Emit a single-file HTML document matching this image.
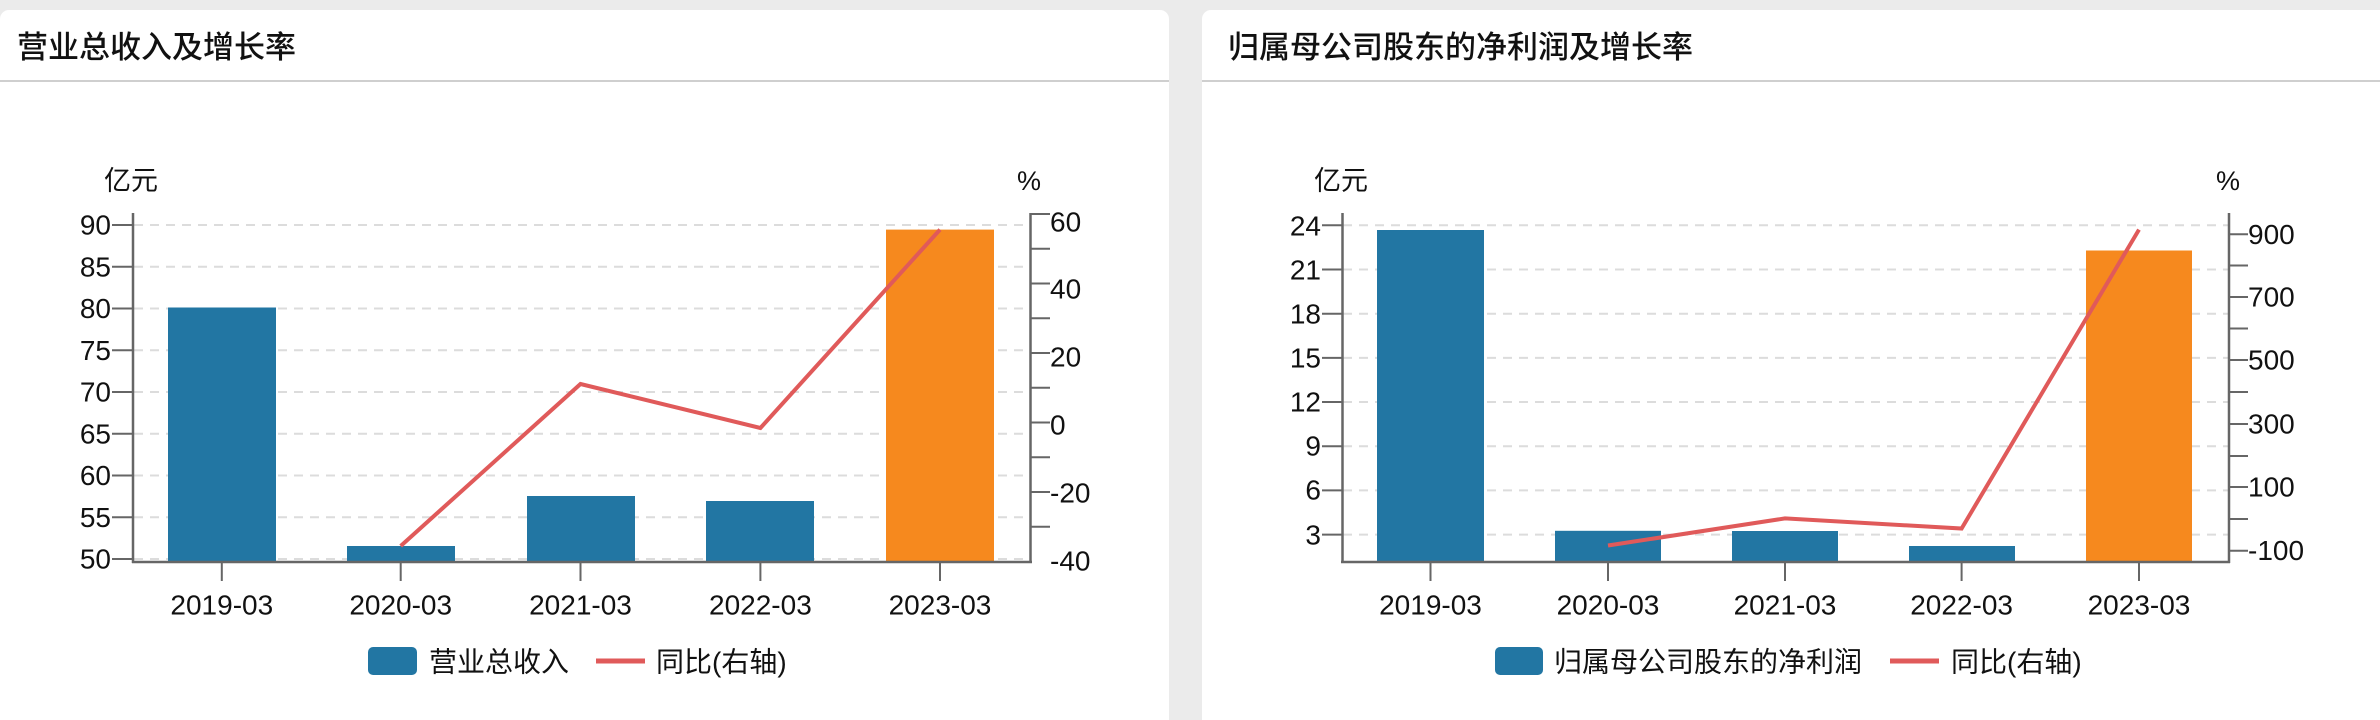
<!DOCTYPE html>
<html><head><meta charset="utf-8"><style>
html,body{margin:0;padding:0;background:#ebebeb;}
svg{display:block;}
text{font-family:"Liberation Sans","Noto Sans CJK SC",sans-serif;fill:#111;}
.t{font-weight:500;}
</style></head><body>
<svg width="2380" height="720" viewBox="0 0 2380 720" xmlns="http://www.w3.org/2000/svg">
<rect x="0" y="0" width="2380" height="720" fill="#ebebeb"/>
<!-- Left card -->
<rect x="0" y="10" width="1169" height="720" rx="9" fill="#fff"/>
<text class="t" x="17" y="58" font-size="31">营业总收入及增长率</text>
<rect x="0" y="80" width="1169" height="2" fill="#cfcfcf"/>
<text x="104" y="190" font-size="27">亿元</text>
<text x="1017" y="190" font-size="27">%</text>
<g stroke="#dcdcdc" stroke-width="2" stroke-dasharray="9,7">
<line x1="134" x2="1030" y1="225" y2="225"/><line x1="134" x2="1030" y1="266.8" y2="266.8"/>
<line x1="134" x2="1030" y1="308.5" y2="308.5"/><line x1="134" x2="1030" y1="350.3" y2="350.3"/>
<line x1="134" x2="1030" y1="392" y2="392"/><line x1="134" x2="1030" y1="433.8" y2="433.8"/>
<line x1="134" x2="1030" y1="475.5" y2="475.5"/><line x1="134" x2="1030" y1="517.3" y2="517.3"/>
<line x1="134" x2="1030" y1="559" y2="559"/>
</g>
<g fill="#2276a3">
<rect x="168" y="307.5" width="108" height="254.5"/>
<rect x="347" y="546" width="108" height="16"/>
<rect x="527" y="496" width="108" height="66"/>
<rect x="706" y="501" width="108" height="61"/>
</g>
<rect x="886" y="229.6" width="108" height="332.4" fill="#f6891e"/>
<polyline points="400.7,546 580.5,384 760.4,428 940,229.6" fill="none" stroke="#e05a5a" stroke-width="4"/>
<g stroke="#666" stroke-width="2.5" fill="none">
<line x1="133" y1="213" x2="133" y2="563"/>
<line x1="1030.5" y1="213" x2="1030.5" y2="563"/>
<line x1="132" y1="562" x2="1032" y2="562"/>
</g>
<g stroke="#666" stroke-width="2">
<line x1="112" x2="133" y1="225" y2="225"/><line x1="112" x2="133" y1="266.8" y2="266.8"/>
<line x1="112" x2="133" y1="308.5" y2="308.5"/><line x1="112" x2="133" y1="350.3" y2="350.3"/>
<line x1="112" x2="133" y1="392" y2="392"/><line x1="112" x2="133" y1="433.8" y2="433.8"/>
<line x1="112" x2="133" y1="475.5" y2="475.5"/><line x1="112" x2="133" y1="517.3" y2="517.3"/>
<line x1="112" x2="133" y1="559" y2="559"/>
<line x1="1031" x2="1050" y1="214" y2="214"/><line x1="1031" x2="1050" y1="248.7" y2="248.7"/>
<line x1="1031" x2="1050" y1="283.5" y2="283.5"/><line x1="1031" x2="1050" y1="318.2" y2="318.2"/>
<line x1="1031" x2="1050" y1="353" y2="353"/><line x1="1031" x2="1050" y1="387.8" y2="387.8"/>
<line x1="1031" x2="1050" y1="422.5" y2="422.5"/><line x1="1031" x2="1050" y1="457.2" y2="457.2"/>
<line x1="1031" x2="1050" y1="492" y2="492"/><line x1="1031" x2="1050" y1="526.7" y2="526.7"/>
<line x1="221.8" x2="221.8" y1="562" y2="581"/><line x1="400.7" x2="400.7" y1="562" y2="581"/>
<line x1="580.5" x2="580.5" y1="562" y2="581"/><line x1="760.4" x2="760.4" y1="562" y2="581"/>
<line x1="940" x2="940" y1="562" y2="581"/>
</g>
<g font-size="28" text-anchor="end" dominant-baseline="central">
<text x="111" y="225">90</text><text x="111" y="266.8">85</text><text x="111" y="308.5">80</text>
<text x="111" y="350.3">75</text><text x="111" y="392">70</text><text x="111" y="433.8">65</text>
<text x="111" y="475.5">60</text><text x="111" y="517.3">55</text><text x="111" y="559">50</text>
</g>
<g font-size="28" dominant-baseline="central">
<text x="1050" y="222">60</text><text x="1050" y="289">40</text><text x="1050" y="357">20</text>
<text x="1050" y="425">0</text><text x="1050" y="493">-20</text><text x="1050" y="561">-40</text>
</g>
<g font-size="28" text-anchor="middle" dominant-baseline="central">
<text x="221.8" y="605">2019-03</text><text x="400.7" y="605">2020-03</text>
<text x="580.5" y="605">2021-03</text><text x="760.4" y="605">2022-03</text>
<text x="940" y="605">2023-03</text>
</g>
<rect x="368" y="647" width="49" height="28" rx="5" fill="#2276a3"/>
<text x="429" y="662" font-size="28" dominant-baseline="central">营业总收入</text>
<line x1="596" x2="645" y1="661" y2="661" stroke="#e05a5a" stroke-width="5"/>
<text x="656" y="662" font-size="28" dominant-baseline="central">同比(右轴)</text>

<!-- Right card -->
<rect x="1202" y="10" width="1200" height="720" rx="9" fill="#fff"/>
<text class="t" x="1228" y="58" font-size="31">归属母公司股东的净利润及增长率</text>
<rect x="1202" y="80" width="1178" height="2" fill="#cfcfcf"/>
<text x="1314" y="190" font-size="27">亿元</text>
<text x="2216" y="190" font-size="27">%</text>
<g stroke="#dcdcdc" stroke-width="2" stroke-dasharray="9,7">
<line x1="1343" x2="2228" y1="225.3" y2="225.3"/><line x1="1343" x2="2228" y1="269.5" y2="269.5"/>
<line x1="1343" x2="2228" y1="313.7" y2="313.7"/><line x1="1343" x2="2228" y1="357.9" y2="357.9"/>
<line x1="1343" x2="2228" y1="402" y2="402"/><line x1="1343" x2="2228" y1="446.2" y2="446.2"/>
<line x1="1343" x2="2228" y1="490.4" y2="490.4"/><line x1="1343" x2="2228" y1="534.6" y2="534.6"/>
</g>
<g fill="#2276a3">
<rect x="1377" y="230" width="107" height="332"/>
<rect x="1555" y="530.8" width="106" height="31.2"/>
<rect x="1732" y="531" width="106" height="31"/>
<rect x="1909" y="546" width="106" height="16"/>
</g>
<rect x="2086" y="250.5" width="106" height="311.5" fill="#f6891e"/>
<polyline points="1608,545.5 1785,518.4 1961.6,528.5 2139,229.6" fill="none" stroke="#e05a5a" stroke-width="4"/>
<g stroke="#666" stroke-width="2.5" fill="none">
<line x1="1342.5" y1="213" x2="1342.5" y2="563"/>
<line x1="2229" y1="213" x2="2229" y2="563"/>
<line x1="1341" y1="562" x2="2230" y2="562"/>
</g>
<g stroke="#666" stroke-width="2">
<line x1="1322" x2="1342" y1="225.3" y2="225.3"/><line x1="1322" x2="1342" y1="269.5" y2="269.5"/>
<line x1="1322" x2="1342" y1="313.7" y2="313.7"/><line x1="1322" x2="1342" y1="357.9" y2="357.9"/>
<line x1="1322" x2="1342" y1="402" y2="402"/><line x1="1322" x2="1342" y1="446.2" y2="446.2"/>
<line x1="1322" x2="1342" y1="490.4" y2="490.4"/><line x1="1322" x2="1342" y1="534.6" y2="534.6"/>
<line x1="2229" x2="2248" y1="234.3" y2="234.3"/><line x1="2229" x2="2248" y1="265.5" y2="265.5"/>
<line x1="2229" x2="2248" y1="297" y2="297"/><line x1="2229" x2="2248" y1="328.5" y2="328.5"/>
<line x1="2229" x2="2248" y1="360" y2="360"/><line x1="2229" x2="2248" y1="392" y2="392"/>
<line x1="2229" x2="2248" y1="424" y2="424"/><line x1="2229" x2="2248" y1="456" y2="456"/>
<line x1="2229" x2="2248" y1="487" y2="487"/><line x1="2229" x2="2248" y1="519" y2="519"/>
<line x1="2229" x2="2248" y1="550.7" y2="550.7"/>
<line x1="1430.5" x2="1430.5" y1="562" y2="581"/><line x1="1608" x2="1608" y1="562" y2="581"/>
<line x1="1785" x2="1785" y1="562" y2="581"/><line x1="1961.6" x2="1961.6" y1="562" y2="581"/>
<line x1="2139" x2="2139" y1="562" y2="581"/>
</g>
<g font-size="28" text-anchor="end" dominant-baseline="central">
<text x="1321" y="226">24</text><text x="1321" y="270">21</text><text x="1321" y="314">18</text>
<text x="1321" y="358">15</text><text x="1321" y="402">12</text><text x="1321" y="446">9</text>
<text x="1321" y="490">6</text><text x="1321" y="535">3</text>
</g>
<g font-size="28" dominant-baseline="central">
<text x="2248" y="234.3">900</text><text x="2248" y="297">700</text><text x="2248" y="360">500</text>
<text x="2248" y="424">300</text><text x="2248" y="487">100</text><text x="2248" y="550.7">-100</text>
</g>
<g font-size="28" text-anchor="middle" dominant-baseline="central">
<text x="1430.5" y="605">2019-03</text><text x="1608" y="605">2020-03</text>
<text x="1785" y="605">2021-03</text><text x="1961.6" y="605">2022-03</text>
<text x="2139" y="605">2023-03</text>
</g>
<rect x="1495" y="647" width="48" height="28" rx="5" fill="#2276a3"/>
<text x="1554" y="662" font-size="28" dominant-baseline="central">归属母公司股东的净利润</text>
<line x1="1890" x2="1939" y1="661" y2="661" stroke="#e05a5a" stroke-width="5"/>
<text x="1951" y="662" font-size="28" dominant-baseline="central">同比(右轴)</text>
</svg>
</body></html>
